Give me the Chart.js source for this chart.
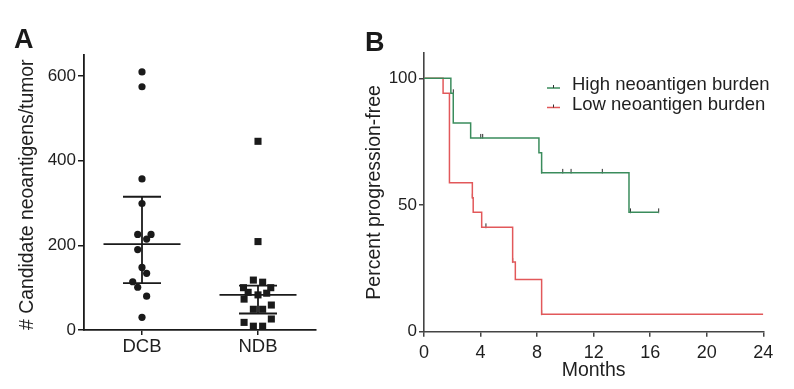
<!DOCTYPE html>
<html><head><meta charset="utf-8">
<script src="https://cdn.jsdelivr.net/npm/chart.js@4"></script>
<style>
html,body{margin:0;padding:0;background:#fff;width:794px;height:389px;overflow:hidden;font-family:"Liberation Sans",Arial,sans-serif;}
#wa{position:absolute;left:0;top:0;width:340px;height:389px;}
#wb{position:absolute;left:340px;top:0;width:454px;height:389px;}
.pl{position:absolute;font-weight:bold;font-size:27px;color:#1a1a1a;line-height:1;}
</style></head><body>
<div id="wa"><canvas id="ca" width="340" height="389"></canvas></div>
<div id="wb"><canvas id="cb" width="454" height="389"></canvas></div>
<div class="pl" style="left:14px;top:26px;">A</div>
<div class="pl" style="left:365px;top:29px;">B</div>
<script>
// ---------- Panel A data ----------
const groups = ['DCB', 'NDB'];
const dcbValues = [610, 575, 357, 299, 226, 226, 215, 190, 148, 134, 114, 101, 80, 30];
const ndbValues = [446, 209, 118, 113, 100, 100, 89, 87, 83, 73, 59, 49, 49, 26, 18, 9, 9];
const dcbJitter = [0, 0, 0, 0, -0.037, 0.078, 0.04, -0.037, 0, 0.04, -0.08, -0.037, 0.04, 0];
const ndbJitter = [0, 0, -0.04, 0.04, -0.125, 0.11, -0.085, 0.075, 0, -0.12, 0.115, -0.04, 0.04, 0.115, -0.12, -0.04, 0.04];
const medians = [203, 83];
const lowerBars = [111, 39];
const upperBars = [315, 105];
const scatterYTicks = [0, 200, 400, 600];

// ---------- Panel B data ----------
const highMonths  = [0, 1.9, 2.07, 3.3, 8.13, 8.32, 14.5, 16.6];
const highPercent = [100, 94.1, 82.4, 76.5, 70.6, 62.7, 47.1, 47.1];
const lowMonths   = [0, 1.35, 1.8, 1.8, 3.42, 3.48, 4.08, 6.27, 6.46, 8.32, 24];
const lowPercent  = [100, 94.1, 82.4, 58.8, 52.9, 47.1, 41.2, 27.5, 20.6, 6.9, 6.9];
const highCensorMonths  = [2.07, 4.01, 4.15, 8.32, 9.81, 10.4, 12.61, 14.6, 16.6];
const highCensorPercent = [94.1, 76.5, 76.5, 62.7, 62.7, 62.7, 62.7, 47.1, 47.1];
const lowCensorMonths  = [1.8, 3.42, 4.38, 6.27, 8.32];
const lowCensorPercent = [82.4, 52.9, 41.2, 27.5, 6.9];
const kmXTicks = [0, 4, 8, 12, 16, 20, 24];
const kmYTicks = [0, 50, 100];
const seriesNames = ['High neoantigen burden', 'Low neoantigen burden'];

const FONT = '"Liberation Sans", Arial, sans-serif';
const TXT = '#1f1f1f';
const INK = '#1a1a1a';
const GREEN = '#3a8c5c';
const RED = '#e2585a';

Chart.defaults.font.family = FONT;
Chart.defaults.color = TXT;

const setTicks = arr => s => { s.ticks = arr.map(v => ({ value: v })); };

// ---------- Panel A ----------
const iqrPlugin = {
  id: 'iqr',
  afterDatasetsDraw(chart) {
    const { ctx, scales: { x, y } } = chart;
    ctx.save();
    ctx.strokeStyle = INK;
    ctx.lineWidth = 1.8;
    const seg = (x1, y1, x2, y2) => { ctx.beginPath(); ctx.moveTo(x1, y1); ctx.lineTo(x2, y2); ctx.stroke(); };
    groups.forEach((g, i) => {
      const cx = x.getPixelForValue(i + 1);
      const ym = y.getPixelForValue(medians[i]);
      const yl = y.getPixelForValue(lowerBars[i]);
      const yu = y.getPixelForValue(upperBars[i]);
      seg(cx, yl, cx, yu);
      seg(cx - 38.5, ym, cx + 38.5, ym);
      seg(cx - 19, yl, cx + 19, yl);
      seg(cx - 19, yu, cx + 19, yu);
    });
    ctx.restore();
  }
};

new Chart(document.getElementById('ca'), {
  type: 'scatter',
  data: {
    datasets: [
      { label: groups[0], data: dcbValues.map((v, i) => ({ x: 1 + dcbJitter[i], y: v })),
        pointStyle: 'circle', pointRadius: 3.6, backgroundColor: INK, borderColor: INK, borderWidth: 0 },
      { label: groups[1], data: ndbValues.map((v, i) => ({ x: 2 + ndbJitter[i], y: v })),
        pointStyle: 'rect', pointRadius: 5, backgroundColor: INK, borderColor: INK, borderWidth: 0 }
    ]
  },
  options: {
    responsive: false, animation: false, devicePixelRatio: 1,
    layout: { padding: { left: 0, top: 55, right: 24, bottom: 0 } },
    plugins: { legend: { display: false }, tooltip: { enabled: false } },
    scales: {
      x: {
        type: 'linear', min: 0.5, max: 2.5,
        afterBuildTicks: s => { s.ticks = groups.map((g, i) => ({ value: i + 1 })); },
        afterFit: s => { s.height = 59; },
        ticks: { callback: v => groups[v - 1], font: { size: 18.5 }, color: TXT, padding: 1, maxRotation: 0 },
        grid: { drawOnChartArea: false, drawTicks: true, tickLength: 5, color: INK, lineWidth: 1.5 },
        border: { display: true, color: INK, width: 1.8 }
      },
      y: {
        min: 0, max: 650,
        afterBuildTicks: setTicks(scatterYTicks),
        afterFit: s => { s.width = 84; },
        ticks: { font: { size: 17 }, color: TXT, padding: 2 },
        grid: { drawOnChartArea: false, drawTicks: true, tickLength: 6, color: INK, lineWidth: 1.5 },
        border: { display: true, color: INK, width: 1.8 },
        title: { display: true, text: '# Candidate neoantigens/tumor', align: 'start',
          font: { size: 19.4 }, color: TXT, padding: { top: 16.5, bottom: 0 } }
      }
    }
  },
  plugins: [iqrPlugin]
});

// ---------- Panel B ----------
// upward censor tick as a point style image
const tickImg = document.createElement('canvas');
tickImg.width = 3; tickImg.height = 10;
(function () {
  const c = tickImg.getContext('2d');
  c.fillStyle = '#2a2a2a';
  c.fillRect(1, 1, 1, 4.5);
})();

const legendPlugin = {
  id: 'kmLegend',
  afterDraw(chart) {
    const { ctx } = chart;
    ctx.save();
    const items = [[seriesNames[0], GREEN], [seriesNames[1], RED]];
    items.forEach(([name, col], i) => {
      const yc = 85 + i * 19.5;
      ctx.strokeStyle = col; ctx.lineWidth = 1.5;
      ctx.beginPath(); ctx.moveTo(207, yc + 3); ctx.lineTo(220, yc + 3); ctx.stroke();
      ctx.strokeStyle = '#333'; ctx.lineWidth = 1;
      ctx.beginPath(); ctx.moveTo(213.5, yc + 3); ctx.lineTo(213.5, yc); ctx.stroke();
      ctx.fillStyle = TXT;
      ctx.font = '18.5px ' + FONT;
      ctx.textBaseline = 'middle';
      ctx.textAlign = 'left';
      ctx.fillText(name, 232, yc);
    });
    ctx.restore();
  }
};

const pts = (xs, ys) => xs.map((x, i) => ({ x, y: ys[i] }));
const censorStyle = { type: 'scatter', showLine: false, pointStyle: tickImg, pointRadius: 3 };

new Chart(document.getElementById('cb'), {
  type: 'line',
  data: {
    datasets: [
      { label: seriesNames[0], data: pts(highMonths, highPercent), stepped: true,
        borderColor: GREEN, borderWidth: 1.5, pointRadius: 0, fill: false },
      { label: seriesNames[1], data: pts(lowMonths, lowPercent), stepped: true,
        borderColor: RED, borderWidth: 1.5, pointRadius: 0, fill: false },
      Object.assign({ label: 'high censored', data: pts(highCensorMonths, highCensorPercent) }, censorStyle),
      Object.assign({ label: 'low censored', data: pts(lowCensorMonths, lowCensorPercent) }, censorStyle)
    ]
  },
  options: {
    responsive: false, animation: false, devicePixelRatio: 1,
    layout: { padding: { left: 0, top: 53, right: 30.7, bottom: 0 } },
    plugins: { legend: { display: false }, tooltip: { enabled: false } },
    scales: {
      x: {
        type: 'linear', min: 0, max: 24,
        afterBuildTicks: setTicks(kmXTicks),
        afterFit: s => { s.height = 57.3; },
        ticks: { font: { size: 18 }, color: TXT, padding: 6, maxRotation: 0 },
        grid: { drawOnChartArea: false, drawTicks: true, tickLength: 5, color: '#444', lineWidth: 1.5 },
        border: { display: true, color: '#444', width: 1.6 },
        title: { display: true, text: 'Months', font: { size: 19.5 }, color: TXT, padding: { top: 0, bottom: 7 } }
      },
      y: {
        type: 'linear', min: 0, max: 110,
        afterBuildTicks: setTicks(kmYTicks),
        afterFit: s => { s.width = 84; },
        ticks: { font: { size: 17 }, color: TXT, padding: 2 },
        grid: { drawOnChartArea: false, drawTicks: true, tickLength: 5, color: '#444', lineWidth: 1.5 },
        border: { display: true, color: '#444', width: 1.6 },
        title: { display: true, text: 'Percent progression-free', font: { size: 19.5 }, color: TXT,
          padding: { top: 23.3, bottom: 0 } }
      }
    }
  },
  plugins: [legendPlugin]
});
</script>
</body></html>
